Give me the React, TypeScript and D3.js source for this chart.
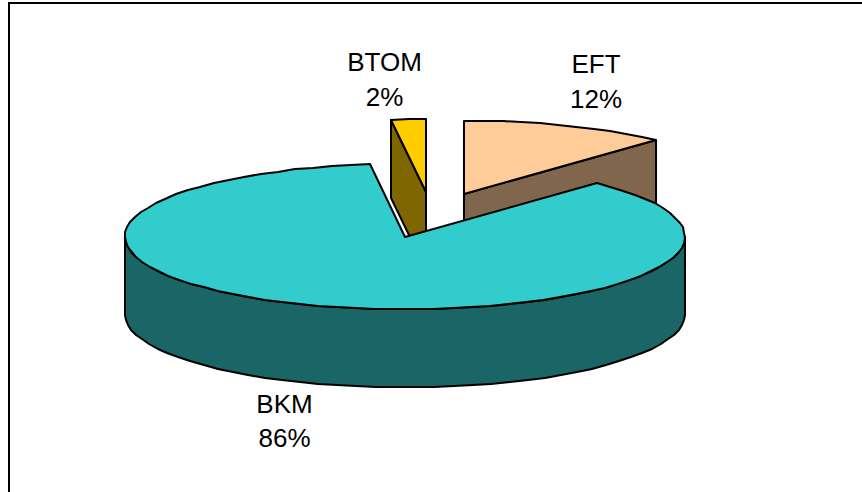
import React from "react";
import * as d3 from "d3";

// Payment channel shares, in percent, clockwise from twelve o'clock.
const categories = ["EFT", "BKM", "BTOM"];
const shares = [12, 86, 2];
const topColours = ["#FFCC99", "#33CCCC", "#FFCC00"];
const wallColours = ["#80664D", "#1A6666", "#806600"];
const labelAnchors = [
  [596, 73],
  [284.5, 412.5],
  [384.5, 71],
];

const WIDTH = 862;
const HEIGHT = 492;
const CENTRE_X = 432;
const CENTRE_Y = 214.8;
const RADIUS_X = 280;
const RADIUS_Y = 73;
const DEPTH = 78;
const EXPLODE = 0.313;
const LINE_GAP = 34.5;

type Pt = [number, number];

const polyline = d3.line<Pt>().x((p) => p[0]).y((p) => p[1]);
const arcs = d3.pie<number>().sort(null).startAngle(0).endAngle(2 * Math.PI)(shares);

// Projects a clockwise-from-north angle onto the tilted pie's rim, snapped to whole pixels.
const rim = (cx: number, cy: number, angle: number): Pt => [
  Math.round(cx + RADIUS_X * Math.sin(angle)),
  Math.round(cy - RADIUS_Y * Math.cos(angle)),
];

const samples = (from: number, to: number): number[] => {
  const n = Math.max(1, Math.ceil((to - from) / (Math.PI / 45)));
  return d3.range(n + 1).map((i) => from + ((to - from) * i) / n);
};

const slices = arcs.map((a, i) => {
  const mid = (a.startAngle + a.endAngle) / 2;
  const cx = CENTRE_X + RADIUS_X * Math.sin(mid) * EXPLODE;
  const cy = CENTRE_Y - RADIUS_Y * Math.cos(mid) * EXPLODE;
  const apex: Pt = [Math.round(cx), Math.round(cy)];
  const outline = samples(a.startAngle, a.endAngle).map((t) => rim(cx, cy, t));
  const top = [apex, ...outline];
  const down = (p: Pt): Pt => [p[0], p[1] + DEPTH];

  // Radial walls are visible where they face the viewer.
  const startPt = outline[0];
  const endPt = outline[outline.length - 1];
  const walls: Pt[][] = [];
  if (a.startAngle > Math.PI) {
    walls.push([apex, startPt, down(startPt), down(apex)]);
  }
  if (a.endAngle < Math.PI) {
    walls.push([apex, endPt, down(endPt), down(apex)]);
  }
  // The outer wall covers the front half of the rim only.
  const frontFrom = Math.max(a.startAngle, Math.PI / 2);
  const frontTo = Math.min(a.endAngle, (3 * Math.PI) / 2);
  if (frontTo > frontFrom) {
    const edge = samples(frontFrom, frontTo).map((t) => rim(cx, cy, t));
    walls.push([...edge, ...edge.slice().reverse().map(down)]);
  }
  return { i, top, walls };
});

// Back slices first, so the large front slice overlaps them.
const drawOrder = [2, 0, 1];

export default function App() {
  return (
    <svg
      width={WIDTH}
      height={HEIGHT}
      viewBox={`0 0 ${WIDTH} ${HEIGHT}`}
      style={{ position: "absolute", left: 0, top: 0, background: "#fff" }}
    >
      <path d={`M9 ${HEIGHT}V3H${WIDTH}`} fill="none" stroke="#000" strokeWidth={2} />
      {drawOrder.map((idx) => {
        const s = slices[idx];
        return (
          <g key={categories[idx]} stroke="#000" strokeWidth={2} strokeLinejoin="round">
            {s.walls.map((w, k) => (
              <path key={k} d={`${polyline(w)}Z`} fill={wallColours[idx]} />
            ))}
            <path d={`${polyline(s.top)}Z`} fill={topColours[idx]} />
          </g>
        );
      })}
      <g fontFamily="'Liberation Sans', Arial, sans-serif" fontSize={26} fill="#000" textAnchor="middle">
        {categories.map((c, i) => (
          <g key={c}>
            <text x={labelAnchors[i][0]} y={labelAnchors[i][1]}>{c}</text>
            <text x={labelAnchors[i][0]} y={labelAnchors[i][1] + LINE_GAP}>{`${shares[i]}%`}</text>
          </g>
        ))}
      </g>
    </svg>
  );
}
